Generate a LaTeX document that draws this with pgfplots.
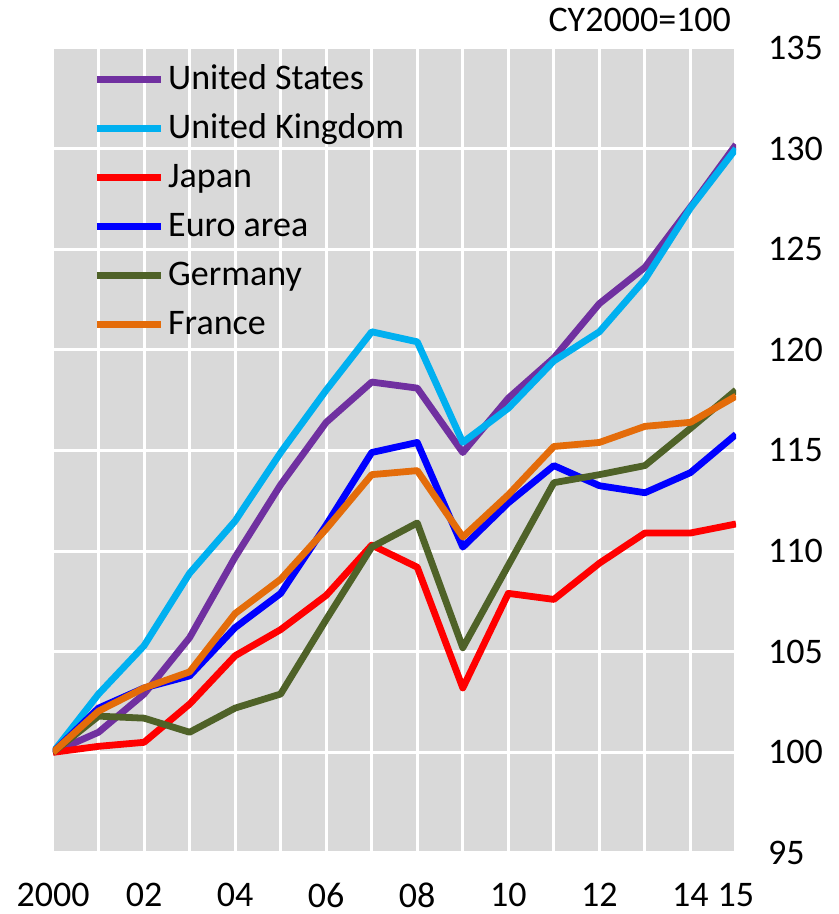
\documentclass[border=0pt]{standalone}
\usepackage{fontspec}
\setmainfont{Carlito}
\usepackage{pgfplots}
\pgfplotsset{compat=1.18}
\definecolor{cUS}{HTML}{7030A0}
\definecolor{cUK}{HTML}{00B0F0}
\definecolor{cJP}{HTML}{FF0000}
\definecolor{cEA}{HTML}{0000FF}
\definecolor{cDE}{HTML}{4F6228}
\definecolor{cFR}{HTML}{E46C0A}
\definecolor{bg}{HTML}{D9D9D9}
\newcommand{\bigf}{\fontsize{18}{22}\selectfont}

\begin{document}
\begin{tikzpicture}
\path[use as bounding box] (-26.5pt,-30.5pt) rectangle (393pt,426.5pt);
\begin{axis}[
    name=ax,
    at={(0pt,0pt)}, anchor=south west,
    scale only axis,
    width=341.5pt, height=402.5pt,
    xmin=2000, xmax=2015,
    ymin=95, ymax=135,
    axis background/.style={fill=bg},
    axis line style={draw=none},
    major tick length=0pt,
    grid=major,
    major grid style={white, line width=1.5pt},
    xtick={2000,...,2015},
    xticklabels={2000,,02,,04,,06,,08,,10,,12,,14,15},
    ytick={95,100,...,135},
    yticklabel pos=right,
    /pgf/number format/assume math mode=true,
    tick label style={font=\bigf},
    yticklabel style={xshift=12.5pt},
    xticklabel style={yshift=-11.5pt},
    legend cell align=left,
    legend image code/.code={\draw[#1] (0pt,0pt) -- (32pt,0pt);},
    legend style={
        at={(axis description cs:0,1)}, anchor=north west,
        xshift=17pt, yshift=-2.5pt,
        draw=none, fill=none, font=\bigf,
        nodes={inner sep=2pt, text height=14pt, text depth=4pt},
        row sep=2.5pt,
    },
    every axis plot/.append style={line width=3.4pt, line join=round},
]

\addplot[cUS] coordinates {(2000,100)(2001,101.0)(2002,102.9)(2003,105.7)(2004,109.7)(2005,113.3)(2006,116.4)(2007,118.4)(2008,118.1)(2009,114.9)(2010,117.6)(2011,119.6)(2012,122.3)(2013,124.1)(2014,127.1)(2015,130.2)};
\addlegendentry{United States}
\addplot[cUK] coordinates {(2000,100)(2001,102.9)(2002,105.3)(2003,108.9)(2004,111.5)(2005,114.9)(2006,118.0)(2007,120.9)(2008,120.4)(2009,115.4)(2010,117.1)(2011,119.45)(2012,120.9)(2013,123.5)(2014,127.05)(2015,130.0)};
\addlegendentry{United Kingdom}
\addplot[cJP] coordinates {(2000,100)(2001,100.3)(2002,100.5)(2003,102.4)(2004,104.8)(2005,106.1)(2006,107.8)(2007,110.3)(2008,109.2)(2009,103.2)(2010,107.9)(2011,107.6)(2012,109.4)(2013,110.9)(2014,110.9)(2015,111.35)};
\addlegendentry{Japan}
\addplot[cEA] coordinates {(2000,100)(2001,102.2)(2002,103.2)(2003,103.8)(2004,106.2)(2005,107.9)(2006,111.3)(2007,114.9)(2008,115.4)(2009,110.2)(2010,112.4)(2011,114.25)(2012,113.25)(2013,112.9)(2014,113.9)(2015,115.8)};
\addlegendentry{Euro area}
\addplot[cDE] coordinates {(2000,100)(2001,101.8)(2002,101.7)(2003,101.0)(2004,102.2)(2005,102.9)(2006,106.6)(2007,110.2)(2008,111.4)(2009,105.2)(2010,109.3)(2011,113.4)(2012,113.8)(2013,114.25)(2014,116.1)(2015,118.0)};
\addlegendentry{Germany}
\addplot[cFR] coordinates {(2000,100)(2001,102.05)(2002,103.2)(2003,104.0)(2004,106.9)(2005,108.6)(2006,111.1)(2007,113.8)(2008,114.0)(2009,110.7)(2010,112.8)(2011,115.2)(2012,115.4)(2013,116.2)(2014,116.4)(2015,117.7)};
\addlegendentry{France}
\end{axis}
\node[font=\bigf, anchor=base east] at ([xshift=1pt, yshift=8pt]ax.north east) {CY2000=100};
\end{tikzpicture}
\end{document}
